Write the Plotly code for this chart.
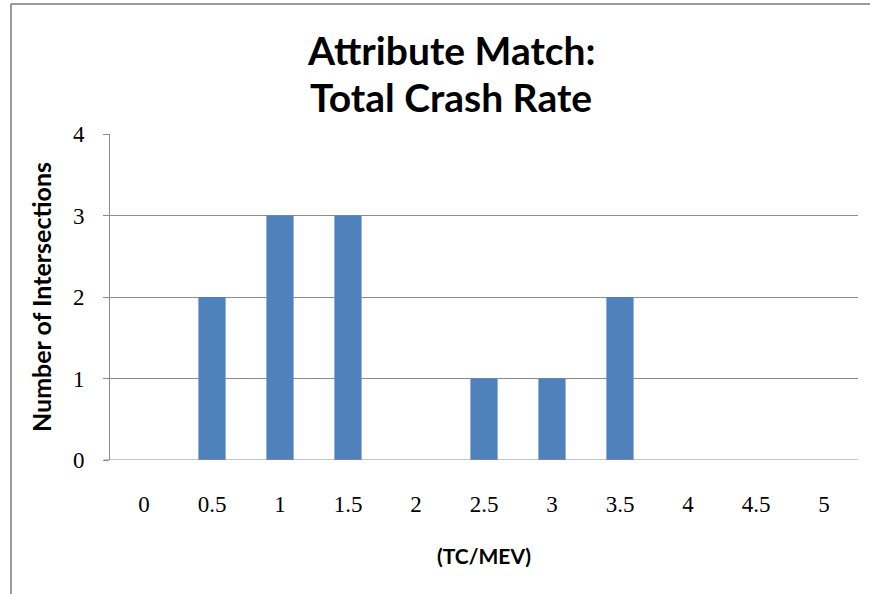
import plotly.graph_objects as go

# Histogram bins of total crash rate (TC/MEV) and intersection counts
rate_bins = ["0", "0.5", "1", "1.5", "2", "2.5", "3", "3.5", "4", "4.5", "5"]
intersections = [0, 2, 3, 3, 0, 1, 1, 2, 0, 0, 0]
y_ticks = [0, 1, 2, 3, 4]

title_lines = ["Attribute Match:", "Total Crash Rate"]
x_title = "(TC/MEV)"
y_title = "Number of Intersections"

BAR = "#4F81BD"
GRID = "#8C8C8C"
SANS = "Lato"
SERIF = "Liberation Serif"

fig = go.Figure(
    go.Bar(
        x=rate_bins,
        y=intersections,
        marker=dict(color=BAR, line=dict(width=0)),
        width=0.4,
        hoverinfo="x+y",
    )
)

L, R, T, B = 110, 12, 134, 134
W, H = 870, 594
pw, ph = W - L - R, H - T - B


def px_x(p):
    return (p - L) / pw


def px_y(p):
    return (H - B - p) / ph


# two-line chart title, one annotation per line
title_y = [50, 97]
annotations = [
    dict(text=line, xref="paper", yref="paper",
         x=px_x(451), y=px_y(yc), xanchor="center", yanchor="middle",
         showarrow=False,
         font=dict(family=SANS, size=39, color="black", weight="bold"))
    for line, yc in zip(title_lines, title_y)
]

fig.update_layout(
    width=W,
    height=H,
    margin=dict(l=L, r=R, t=T, b=B),
    paper_bgcolor="white",
    plot_bgcolor="white",
    showlegend=False,
    bargap=0.6,
    annotations=annotations,
    xaxis=dict(
        type="category",
        categoryorder="array",
        categoryarray=rate_bins,
        showgrid=False,
        zeroline=False,
        showline=False,
        ticks="",
        ticklabelstandoff=28,
        tickfont=dict(family=SERIF, size=23, color="black"),
        title=dict(
            text=x_title,
            standoff=33,
            font=dict(family=SANS, size=21, color="black", weight="bold"),
        ),
    ),
    yaxis=dict(
        range=[0, 4],
        tickvals=y_ticks,
        showgrid=True,
        gridcolor=GRID,
        gridwidth=1,
        zeroline=False,
        showline=True,
        linecolor=GRID,
        linewidth=1,
        ticks="outside",
        ticklen=6,
        tickcolor=GRID,
        ticklabelstandoff=14,
        tickfont=dict(family=SERIF, size=23, color="black"),
        title=dict(
            text=y_title,
            standoff=14,
            font=dict(family=SANS, size=25, color="black", weight="bold"),
        ),
    ),
    shapes=[
        # chart frame along top and left edges
        dict(type="line", xref="paper", yref="paper",
             x0=px_x(11), x1=px_x(W + 20), y0=px_y(4), y1=px_y(4),
             line=dict(color="#9A9A9A", width=2)),
        dict(type="line", xref="paper", yref="paper",
             x0=px_x(11), x1=px_x(11), y0=px_y(4), y1=px_y(H + 20),
             line=dict(color="#9A9A9A", width=2)),
        # baseline extending to the outer tick
        dict(type="line", xref="paper", yref="y",
             x0=px_x(104), x1=1, y0=0, y1=0,
             line=dict(color=GRID, width=1)),
    ],
)

fig.write_html("out.html")
